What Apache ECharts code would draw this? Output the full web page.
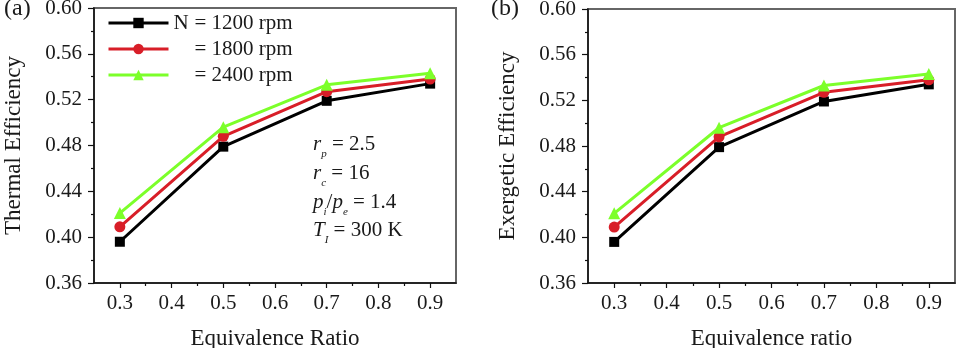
<!DOCTYPE html>
<html>
<head>
<meta charset="utf-8">
<script src="https://cdn.jsdelivr.net/npm/echarts@6/dist/echarts.min.js"></script>
<style>
  html, body { margin: 0; padding: 0; background: #fff; }
  #chart { width: 962px; height: 348px; }
</style>
</head>
<body>
<div id="chart"></div>
<script>
// ========================================
// DATA
// ========================================
var ratios = [0.3, 0.5, 0.7, 0.9];
var speeds = ['1200 rpm', '1800 rpm', '2400 rpm'];

var thermal1200 = [0.396, 0.479, 0.519, 0.534];
var thermal1800 = [0.409, 0.488, 0.527, 0.538];
var thermal2400 = [0.421, 0.496, 0.533, 0.543];

var exergy1200 = [0.396, 0.479, 0.519, 0.534];
var exergy1800 = [0.409, 0.488, 0.527, 0.538];
var exergy2400 = [0.421, 0.496, 0.533, 0.543];

var xTicks = [0.3, 0.4, 0.5, 0.6, 0.7, 0.8, 0.9];
var xMinorTicks = [0.35, 0.45, 0.55, 0.65, 0.75, 0.85];

var panelLabels = ['(a)', '(b)'];
var xNames = ['Equivalence Ratio', 'Equivalence ratio'];
var yNames = ['Thermal Efficiency', 'Exergetic Efficiency'];

// ========================================
// STYLE
// ========================================
var FONT = '"Liberation Serif", "DejaVu Serif", serif';
var TEXT = '#1a1a1a';
var colors = ['#000000', '#d81e28', '#7cff2a'];
var symbols = ['rect', 'circle', 'triangle'];
var symbolSizes = [10, 11, 12];

function pairs(values) {
  return ratios.map(function (r, i) { return [r, values[i]]; });
}

var grids = [
  { left: 94, top: 8, width: 362, height: 275 },
  { left: 588, top: 9, width: 367, height: 274 }
];

var xAxes = [];
var yAxes = [];
grids.forEach(function (g, i) {
  g.show = true;
  g.borderColor = '#666';
  g.borderWidth = 2;
  g.outerBoundsMode = 'none';
  g.containLabel = false;
  xAxes.push({
    type: 'value', gridIndex: i, min: 0.25, max: 0.95,
    name: xNames[i], nameLocation: 'middle', nameGap: 44,
    nameTextStyle: { fontFamily: FONT, fontSize: 23, color: TEXT },
    axisLine: { lineStyle: { color: '#111', width: 1.5 } },
    axisTick: { customValues: xTicks, length: 5, lineStyle: { color: '#111', width: 1.2 } },
    axisLabel: {
      customValues: xTicks, margin: 10, fontFamily: FONT, fontSize: 21, color: TEXT,
      formatter: function (v) { return v.toFixed(1); }
    },
    splitLine: { show: false }
  });
  // minor ticks on x
  xAxes.push({
    type: 'value', gridIndex: i, min: 0.25, max: 0.95, position: 'bottom',
    axisLine: { show: false },
    axisTick: { customValues: xMinorTicks, length: 3, lineStyle: { color: '#111', width: 1.2 } },
    axisLabel: { show: false },
    splitLine: { show: false }
  });
  yAxes.push({
    type: 'value', gridIndex: i, min: 0.36, max: 0.60, interval: 0.04,
    name: yNames[i], nameLocation: 'middle', nameGap: 69, nameRotate: 90,
    nameTextStyle: { fontFamily: FONT, fontSize: 23, color: TEXT },
    axisLine: { show: true, lineStyle: { color: '#111', width: 1.5 } },
    axisTick: { show: true, length: 6, lineStyle: { color: '#111', width: 1.2 } },
    minorTick: { show: true, splitNumber: 2, length: 3, lineStyle: { color: '#111', width: 1.2 } },
    axisLabel: {
      margin: 12, fontFamily: FONT, fontSize: 21, color: TEXT,
      formatter: function (v) { return v.toFixed(2); }
    },
    splitLine: { show: false }
  });
});

var panelData = [
  [thermal1200, thermal1800, thermal2400],
  [exergy1200, exergy1800, exergy2400]
];

var series = [];
panelData.forEach(function (set, p) {
  set.forEach(function (values, k) {
    series.push({
      name: speeds[k],
      type: 'line',
      xAxisIndex: p * 2,
      yAxisIndex: p,
      data: pairs(values),
      symbol: symbols[k],
      symbolSize: symbolSizes[k],
      z: 2 + k,
      lineStyle: { color: colors[k], width: 3 },
      itemStyle: { color: colors[k] }
    });
  });
});

// annotation lines in panel (a)
var noteRich = {
  i: { fontFamily: FONT, fontSize: 21, fontStyle: 'italic', lineHeight: 32, fill: TEXT },
  s: { fontFamily: FONT, fontSize: 11, fontStyle: 'italic', lineHeight: 3, verticalAlign: 'bottom', fill: TEXT },
  t: { fontFamily: FONT, fontSize: 21, lineHeight: 32, fill: TEXT }
};
var noteLines = [
  '{i|r}{s|p}{t| = 2.5}',
  '{i|r}{s|c}{t| = 16}',
  '{i|p}{s|i}{t|/}{i|p}{s|e}{t| = 1.4}',
  '{i|T}{s|I}{t| = 300 K}'
];
var noteTops = [128, 157, 186, 214];

var graphics = noteLines.map(function (txt, i) {
  return { type: 'text', x: 313, y: noteTops[i], style: { text: txt, rich: noteRich } };
});
graphics.push(
  { type: 'text', x: 4, y: -3, style: { text: panelLabels[0], fontFamily: FONT, fontSize: 24, fill: TEXT } },
  { type: 'text', x: 491, y: -3, style: { text: panelLabels[1], fontFamily: FONT, fontSize: 24, fill: TEXT } }
);

var chart = echarts.init(document.getElementById('chart'));
chart.setOption({
  animation: false,
  grid: grids,
  xAxis: xAxes,
  yAxis: yAxes,
  series: series,
  legend: {
    data: speeds,
    orient: 'vertical',
    left: 102, top: 7,
    itemWidth: 60, itemHeight: 13, itemGap: 4,
    lineStyle: { width: 3 },
    formatter: function (name) {
      return '{n|' + (name === speeds[0] ? 'N' : '') + '}= ' + name;
    },
    textStyle: {
      fontFamily: FONT, fontSize: 21, color: TEXT, lineHeight: 22,
      rich: { n: { width: 21, fontFamily: FONT, fontSize: 21, color: TEXT } }
    }
  },
  graphic: graphics
});
</script>
</body>
</html>
